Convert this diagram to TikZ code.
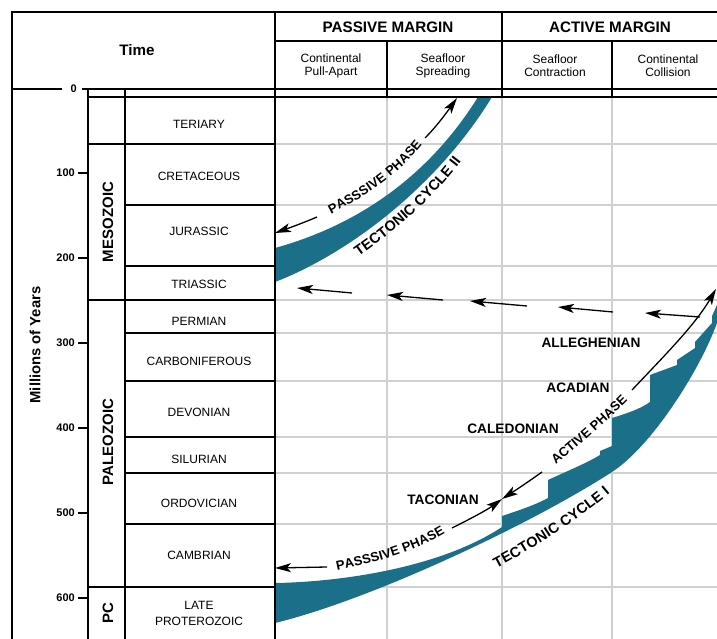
\documentclass[tikz,border=0pt]{standalone}
\usepackage{fontspec}
\setmainfont{Liberation Sans}
\usepackage{tikz}
\usetikzlibrary{arrows.meta,decorations.text}

\definecolor{cycleteal}{RGB}{27,111,137}
\definecolor{gridgray}{RGB}{208,208,208}
\newcommand{\phasefont}{\fontsize{13}{15}\selectfont\bfseries}
\newcommand{\cyclefont}{\fontsize{14.5}{16}\selectfont\bfseries}

\begin{document}
\begin{tikzpicture}[
    x=1pt, y=-1pt,
    frame/.style={line width=1.5pt},
    gridline/.style={line width=1.3pt, gridgray},
    head/.style={font=\fontsize{15.2}{17}\selectfont\bfseries},
    subhead/.style={font=\fontsize{12}{13.3}\selectfont, align=center},
    period/.style={font=\fontsize{12}{16}\selectfont, align=center},
    era/.style={font=\fontsize{15}{17}\selectfont\bfseries, rotate=90},
    ticklabel/.style={font=\fontsize{11}{12}\selectfont\bfseries, anchor=east, inner sep=0pt},
    orogeny/.style={font=\fontsize{13.7}{15}\selectfont\bfseries},
    band/.style={fill=cycleteal},
    arrow/.style={-{Stealth[length=16pt, width=9pt, inset=4pt]}, line width=1.3pt},
    phaselabel/.style={decorate, decoration={text along path, text align=center, raise=-4.7pt, text={|\phasefont|#1}}},
    cyclelabel/.style={decorate, decoration={text along path, text align=center, raise=-5.2pt, text={|\cyclefont|#1}}},
]
\path[use as bounding box] (0,0) rectangle (717,639);

% grid behind the cycles
\foreach \gx in {387,502,612}
    \draw[gridline] (\gx,97) -- (\gx,639);
\foreach \gy in {144,205,266,300,333,381,437,473,524,587}
    \draw[gridline] (275,\gy) -- (717,\gy);

% tectonic cycle bands
\fill[band] (275,248) .. controls (340,230) and (420,190) .. (478,97)
    -- (492,97) .. controls (435,190) and (345,255) .. (275,282) -- cycle;
\fill[band] (275,583) .. controls (340,582) and (440,568) .. (502,527)
    -- (502,516) .. controls (520,510) and (535,505) .. (548,498)
    -- (548,480) .. controls (565,472) and (585,464) .. (600,455)
    -- (600,451) -- (612,446) -- (612,418)
    .. controls (628,413) and (640,409) .. (650,402)
    -- (650,375) -- (677,365) -- (677,360) -- (695,348) -- (695,342)
    -- (712,323) -- (712,316) -- (717,305) -- (717,323)
    .. controls (700,370) and (652,446) .. (612,472)
    .. controls (530,525) and (370,600) .. (275,623) -- cycle;

% table frame
\draw[frame] (12,639) -- (12,12) -- (717,12);
\draw[frame] (275,12) -- (275,639);
\draw[frame] (275,41) -- (717,41);
\draw[frame] (502,12) -- (502,97);
\draw[frame] (387,41) -- (387,97);
\draw[frame] (612,41) -- (612,97);
\draw[frame] (12,89) -- (62,89);
\draw[frame] (82,89) -- (717,89);
\draw[frame] (88,97) -- (717,97);
\draw[frame] (88,89) -- (88,639);
\draw[frame] (125,89) -- (125,639);
\foreach \py in {205,266,333,381,437,473,524}
    \draw[frame] (125,\py) -- (275,\py);
\foreach \ey in {144,300,587}
    \draw[frame] (88,\ey) -- (275,\ey);

% headings
\node[head] (time) at (137,50) {Time};
\node[head] (passive) at (388,27) {PASSIVE MARGIN};
\node[head] (active) at (610,27) {ACTIVE MARGIN};
\node[subhead] (pullapart) at (331,66) {Continental\\Pull-Apart};
\node[subhead] (spreading) at (443,66) {Seafloor\\Spreading};
\node[subhead] (contraction) at (555,66) {Seafloor\\Contraction};
\node[subhead] (collision) at (668,66) {Continental\\Collision};

% age axis
\node[ticklabel] (t0) at (77,89) {0};
\foreach \t/\ty in {100/173,200/258,300/343,400/428,500/513,600/598} {
    \draw[frame] (78,\ty) -- (88,\ty);
    \node[ticklabel] (t\t) at (75,\ty) {\t};
}
\node[font=\fontsize{14.8}{16}\selectfont\bfseries, rotate=90] (myears) at (35,345) {Millions of Years};

% eras and periods
\node[era] (mesozoic) at (108,222) {MESOZOIC};
\node[era] (paleozoic) at (108,442) {PALEOZOIC};
\node[era] (pc) at (108,613) {PC};
\node[period] (tertiary) at (199,124) {TERIARY};
\node[period] (cretaceous) at (199,176) {CRETACEOUS};
\node[period] (jurassic) at (199,231) {JURASSIC};
\node[period] (triassic) at (199,284) {TRIASSIC};
\node[period] (permian) at (199,321) {PERMIAN};
\node[period] (carboniferous) at (199,361) {CARBONIFEROUS};
\node[period] (devonian) at (199,412) {DEVONIAN};
\node[period] (silurian) at (199,459) {SILURIAN};
\node[period] (ordovician) at (199,503) {ORDOVICIAN};
\node[period] (cambrian) at (199,555) {CAMBRIAN};
\node[period] (proterozoic) at (199,613) {LATE\\PROTEROZOIC};

% cycle II
\draw[arrow] (425,138) .. controls (437,126) and (447,112) .. (457,98);
\draw[arrow] (317,217) .. controls (303,223) and (289,228) .. (275,233);
\path[phaselabel={PASSSIVE PHASE}] (305,222) .. controls (342,203) and (402,177) .. (433,119);
\path[cyclelabel={TECTONIC CYCLE II}] (334,267) .. controls (381,237) and (436,193) .. (472,137);

% return to passive margin
\foreach \ax/\ay/\bx/\by in {352/293/297/288, 443/300/387/295, 527/306/470/301, 613/312/558/307, 700/317/645/313}
    \draw[arrow] (\ax,\ay) -- (\bx,\by);

% cycle I
\coordinate (taconic) at (502,499);
\draw[arrow] (327,567) -- (275,568);
\draw[arrow] (452,528) .. controls (470,519) and (487,510) .. (taconic);
\draw[arrow] (542,472) .. controls (528,482) and (516,490) .. (taconic);
\draw[arrow] (632,390) .. controls (665,355) and (695,325) .. (716,289);
\path[phaselabel={PASSSIVE PHASE}] (316,570) .. controls (358,562) and (418,550) .. (460,518);
\path[phaselabel={ACTIVE PHASE}] (535,476) .. controls (560,455) and (615,410) .. (640,380);
\path[cyclelabel={TECTONIC CYCLE I}] (468,576) .. controls (508,559) and (588,511) .. (628,469);

% orogenies
\node[orogeny] (alleghenian) at (591,343) {ALLEGHENIAN};
\node[orogeny] (acadian) at (578,388) {ACADIAN};
\node[orogeny] (caledonian) at (513,429) {CALEDONIAN};
\node[orogeny] (taconian) at (443,500) {TACONIAN};
\end{tikzpicture}
\end{document}
